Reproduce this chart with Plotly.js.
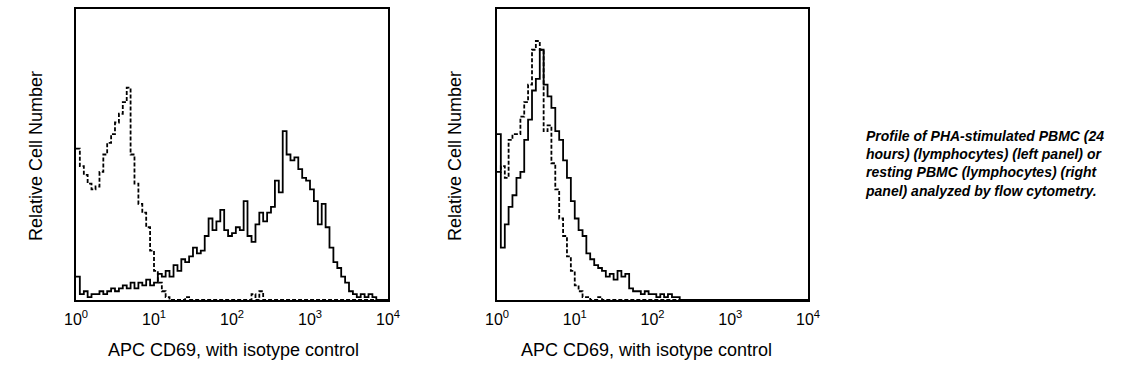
<!DOCTYPE html>
<html>
<head>
<meta charset="utf-8">
<script src="https://cdn.plot.ly/plotly-3.0.1.min.js"></script>
<style>
  html, body { margin: 0; padding: 0; background: #ffffff; }
  #chart { width: 1135px; height: 387px; }
</style>
</head>
<body>
<div id="chart"></div>
<script>
// Histogram bin centres (fluorescence intensity, log spaced)
const bins = [1.00,1.12,1.26,1.41,1.58,1.78,2.00,2.24,2.51,2.82,
  3.16,3.55,3.98,4.47,5.01,5.62,6.31,7.08,7.94,8.91,
  10.0,11.2,12.6,14.1,15.8,17.8,20.0,22.4,25.1,28.2,
  31.6,35.5,39.8,44.7,50.1,56.2,63.1,70.8,79.4,89.1,
  100,112,126,141,158,178,200,224,251,282,
  316,355,398,447,501,562,631,708,794,891,
  1000,1122,1259,1413,1585,1778,1995,2239,2512,2818,
  3162,3548,3981,4467,5012,5623,6310,7079,7943,8913,
  10000];

// Left panel: PHA-stimulated PBMC (24 h), CD69 stain (solid)
const stimulatedCD69 = [8,2,3,1,2,2,3,2,3,4,
  3,4,5,4,6,4,6,5,7,5,
  6,9,8,10,8,12,10,14,13,15,
  18,16,17,22,28,24,27,31,24,22,
  23,25,24,34,22,20,26,30,27,30,
  32,41,37,58,50,48,49,45,42,41,
  38,34,26,33,25,18,13,11,8,6,
  3,2,1,2,1,2,1,0,0,0,
  0];
// Left panel: isotype control (dashed)
const stimulatedIsotype = [52,46,43,40,38,39,44,50,54,57,
  61,64,68,73,50,40,33,30,25,17,
  10,6,3,1,0,0,0,0,1,0,
  0,0,0,0,0,0,0,0,0,0,
  0,0,0,0,0,2,0,3,0,0,
  0,0,0,0,0,0,0,0,0,0,
  0,0,0,0,0,0,0,0,0,0,
  0,0,0,0,0,0,0,0,0,0,
  0];

// Right panel: resting PBMC, CD69 stain (solid)
const restingCD69 = [57,18,26,32,36,42,44,55,62,72,
  76,86,74,70,66,58,55,48,42,34,
  28,24,22,16,14,12,11,10,8,9,
  7,10,8,9,4,3,3,2,3,2,
  2,1,2,1,2,1,1,0,0,0,
  0,0,0,0,0,0,0,0,0,0,
  0,0,0,0,0,0,0,0,0,0,
  0,0,0,0,0,0,0,0,0,0,
  0];
// Right panel: isotype control (dashed)
const restingIsotype = [44,46,42,55,57,57,63,68,74,86,
  89,86,58,60,47,38,28,22,15,10,
  5,3,1,1,0,0,1,0,0,0,
  0,0,0,0,0,0,0,0,0,0,
  0,0,0,0,0,0,0,0,0,0,
  0,0,0,0,0,0,0,0,0,0,
  0,0,0,0,0,0,0,0,0,0,
  0,0,0,0,0,0,0,0,0,0,
  0];

const tickVals = [1, 10, 100, 1000, 10000];
const tickText = ['10<sup>0</sup>', '10<sup>1</sup>', '10<sup>2</sup>', '10<sup>3</sup>', '10<sup>4</sup>'];
const xTitle = 'APC CD69, with isotype control';
const yTitle = 'Relative Cell Number';
const caption = 'Profile of PHA-stimulated PBMC (24<br>hours) (lymphocytes) (left panel) or<br>resting PBMC (lymphocytes) (right<br>panel) analyzed by flow cytometry.';

const W = 1135, H = 387;
const px = v => v / W;
const py = v => 1 - v / H;
const FONT = 'Arial, "Liberation Sans", Helvetica, sans-serif';

function solid(x, y, xa, ya) {
  return { x: x, y: y, xaxis: xa, yaxis: ya, type: 'scatter', mode: 'lines',
    line: { color: '#000000', width: 1.8, shape: 'hv' }, hoverinfo: 'skip' };
}
function dashed(x, y, xa, ya) {
  return { x: x, y: y, xaxis: xa, yaxis: ya, type: 'scatter', mode: 'lines',
    line: { color: '#000000', width: 1.8, shape: 'hv', dash: '4px,2px' }, hoverinfo: 'skip' };
}

const traces = [
  solid(bins, stimulatedCD69, 'x', 'y'),
  dashed(bins, stimulatedIsotype, 'x', 'y'),
  solid(bins, restingCD69, 'x2', 'y2'),
  dashed(bins, restingIsotype, 'x2', 'y2')
];

function xax(domain, anchor) {
  return { domain: domain, anchor: anchor, type: 'log', range: [0, 4],
    tickvals: tickVals, ticktext: tickText, ticks: '', ticklabelstandoff: 4,
    showgrid: false, zeroline: false,
    showline: true, mirror: true, linecolor: '#000000', linewidth: 2,
    tickfont: { family: FONT, size: 16, color: '#000000' }, fixedrange: true };
}
function yax(anchor) {
  return { domain: [py(300), py(9)], anchor: anchor, range: [0, 100],
    showticklabels: false, ticks: '', showgrid: false, zeroline: false,
    showline: true, mirror: true, linecolor: '#000000', linewidth: 2, fixedrange: true };
}

const annFont = { family: FONT, size: 18, color: '#000000' };
const layout = {
  width: W, height: H,
  margin: { l: 0, r: 0, t: 0, b: 0 },
  paper_bgcolor: '#ffffff', plot_bgcolor: '#ffffff',
  showlegend: false,
  xaxis: xax([px(76), px(388)], 'y'),
  yaxis: yax('x'),
  xaxis2: xax([px(497), px(808)], 'y2'),
  yaxis2: yax('x2'),
  annotations: [
    { text: xTitle, xref: 'paper', yref: 'paper', x: px(234), y: py(349.5),
      xanchor: 'center', yanchor: 'middle', showarrow: false, font: annFont },
    { text: xTitle, xref: 'paper', yref: 'paper', x: px(647), y: py(349.5),
      xanchor: 'center', yanchor: 'middle', showarrow: false, font: annFont },
    { text: yTitle, xref: 'paper', yref: 'paper', x: px(36), y: py(156),
      xanchor: 'center', yanchor: 'middle', textangle: -90, showarrow: false, font: annFont },
    { text: yTitle, xref: 'paper', yref: 'paper', x: px(455), y: py(156),
      xanchor: 'center', yanchor: 'middle', textangle: -90, showarrow: false, font: annFont },
    { text: '<b><i>' + caption.split('<br>').join('</i></b><br><b><i>') + '</i></b>',
      xref: 'paper', yref: 'paper', x: px(863), y: py(126),
      xanchor: 'left', yanchor: 'top', align: 'left', showarrow: false,
      font: { family: FONT, size: 14, color: '#000000' } }
  ]
};

Plotly.newPlot('chart', traces, layout, { displayModeBar: false, staticPlot: true });
</script>
</body>
</html>
